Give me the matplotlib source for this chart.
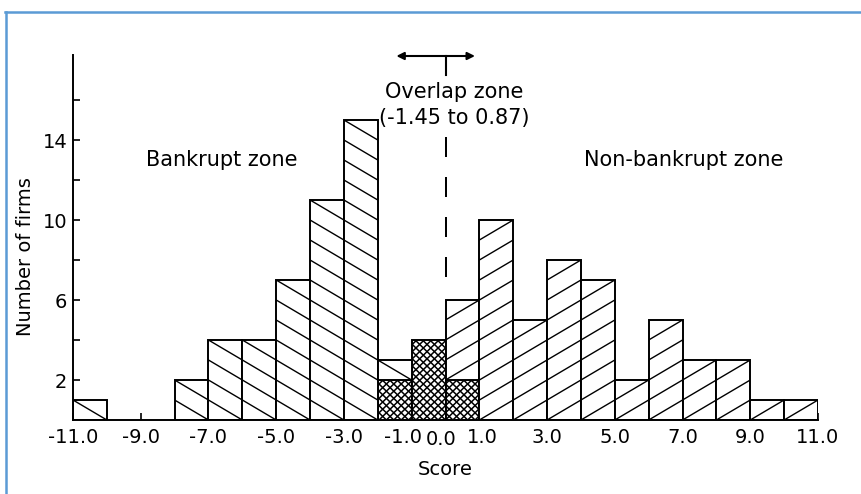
import numpy as np
import matplotlib
matplotlib.use('Agg')
import matplotlib.pyplot as plt
from matplotlib.collections import LineCollection
from matplotlib.lines import Line2D
import matplotlib.transforms as mtransforms

# ---- data ----
bin_left = list(range(-11, 11))      # bins of width 1 from -11 to 11
bankrupt = [1, 0, 0, 2, 4, 4, 7, 11, 15, 3, 4, 2, 0, 0, 0, 0, 0, 0, 0, 0, 0, 0]
nonbankrupt = [0, 0, 0, 0, 0, 0, 0, 0, 0, 2, 4, 6, 10, 5, 8, 7, 2, 5, 3, 3, 1, 1]
xtick_values = [-11, -9, -7, -5, -3, -1, 0, 1, 3, 5, 7, 9, 11]
xtick_labels = ['-11.0', '-9.0', '-7.0', '-5.0', '-3.0', '-1.0', '0.0', '1.0',
                '3.0', '5.0', '7.0', '9.0', '11.0']
ytick_major = [2, 6, 10, 14]
ytick_minor = [4, 8, 12, 16]
overlap_lo, overlap_hi = -1.45, 0.87
cutoff = 0.0

plt.rcParams['font.family'] = ['DejaVu Sans']

fig = plt.figure(figsize=(8.61, 4.94), dpi=100)
ax = fig.add_axes([73 / 861, 74 / 494, 745 / 861, 365 / 494])

x = np.array(bin_left, dtype=float)
b = np.array(bankrupt, dtype=float)
nb = np.array(nonbankrupt, dtype=float)
ov = np.minimum(b, nb)


def add_hatch(patches, slope, spacing=1.0, lw=1.0):
    """Parallel lines y = slope*x + c (c multiple of spacing), clipped to bars."""
    for p in patches:
        x0, y0 = p.get_x(), p.get_y()
        w, h = p.get_width(), p.get_height()
        if h <= 0:
            continue
        x1, y1 = x0 + w, y0 + h
        cands = [y0 - slope * x0, y0 - slope * x1, y1 - slope * x0, y1 - slope * x1]
        cs = np.arange(np.floor(min(cands) / spacing) - 1,
                       np.ceil(max(cands) / spacing) + 2) * spacing
        segs = []
        for c in cs:
            xs = np.array([x0 - 1, x1 + 1])
            ys = slope * xs + c
            segs.append(np.column_stack([xs, ys]))
        lc = LineCollection(segs, colors='black', linewidths=lw, zorder=2.5)
        ax.add_collection(lc, autolim=False)
        lc.set_clip_path(p)


edge_kw = dict(width=1.0, align='edge', facecolor='white', edgecolor='black',
               linewidth=1.4, zorder=2)

# overlap (cross-hatched)
m = ov > 0
bars_ov = ax.bar(x[m], ov[m], **edge_kw)
add_hatch(bars_ov, 1.65, spacing=0.36, lw=1.1)
add_hatch(bars_ov, -1.65, spacing=0.36, lw=1.1)

# bankrupt only part
m = (b - ov) > 0
bars_b = ax.bar(x[m], (b - ov)[m], bottom=ov[m], **edge_kw)
add_hatch(bars_b, -1)

# non-bankrupt only part
m = (nb - ov) > 0
bars_nb = ax.bar(x[m], (nb - ov)[m], bottom=ov[m], **edge_kw)
add_hatch(bars_nb, +1)

ax.set_xlim(-11, 11)
ax.set_ylim(0, 18.25)

for s in ['top', 'right']:
    ax.spines[s].set_visible(False)
for s in ['left', 'bottom']:
    ax.spines[s].set_linewidth(1.4)
    ax.spines[s].set_zorder(3)

ax.set_xticks(xtick_values)
ax.set_xticklabels(xtick_labels, fontsize=14)
ax.set_yticks(ytick_major)
ax.set_yticklabels([str(v) for v in ytick_major], fontsize=14)
ax.set_yticks(ytick_minor, minor=True)
ax.tick_params(axis='both', which='both', direction='in', length=5, width=1.2)
ax.tick_params(axis='x', pad=6)
ax.tick_params(axis='y', pad=4)

# crowded labels near zero: nudge like the original
shifts = {'-1.0': (-9, 0), '0.0': (-4, -2), '1.0': (3, 0)}
for lab in ax.get_xticklabels():
    t = lab.get_text()
    if t in shifts:
        dx, dy = shifts[t]
        off = mtransforms.ScaledTranslation(dx / 100, dy / 100, fig.dpi_scale_trans)
        lab.set_transform(lab.get_transform() + off)

ax.set_xlabel('Score', fontsize=14, labelpad=8)
ax.set_ylabel('Number of firms', fontsize=14)
ax.yaxis.set_label_coords(-0.051, 0.449)

# zone annotations
ax.text(-6.6, 13.0, 'Bankrupt zone', fontsize=15, ha='center', va='center')
ax.text(7.04, 13.0, 'Non-bankrupt zone', fontsize=15, ha='center', va='center')
ax.text(0.27, 16.4, 'Overlap zone', fontsize=15, ha='center', va='center')
ax.text(0.27, 15.1, '(-1.45 to 0.87)', fontsize=15, ha='center', va='center')

# overlap arrow and cutoff markers
ax.annotate('', xy=(overlap_lo, 18.2), xytext=(overlap_hi, 18.2),
            arrowprops=dict(arrowstyle='<|-|>', color='black', lw=1.5,
                            mutation_scale=11, shrinkA=0, shrinkB=0),
            annotation_clip=False)
ax.plot([cutoff, cutoff], [18.2, 17.25], color='black', lw=1.5, clip_on=False)
ax.plot([cutoff, cutoff], [14.15, 7.1], color='black', lw=1.44,
        linestyle=(0, (10, 10)), zorder=4)

# light blue frame of the screenshot
fig.add_artist(Line2D([5 / 861, 1], [1 - 12 / 494, 1 - 12 / 494],
                      transform=fig.transFigure, color='#5b9bd5', lw=1.8))
fig.add_artist(Line2D([6 / 861, 6 / 861], [0, 1 - 12 / 494],
                      transform=fig.transFigure, color='#5b9bd5', lw=1.8))

fig.savefig('out.png', dpi=100)
